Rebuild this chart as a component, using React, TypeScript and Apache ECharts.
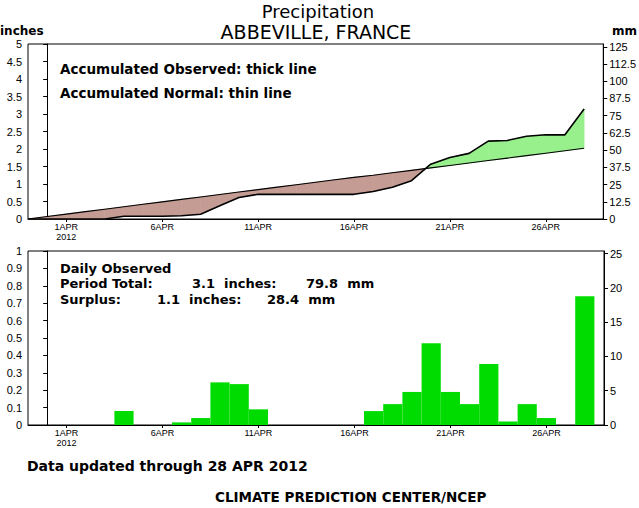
import React, { useEffect, useRef } from 'react';
import * as echarts from 'echarts';

// Day numbers of April 2012 (1 = 1 APR)
const DAYS = [1, 2, 3, 4, 5, 6, 7, 8, 9, 10, 11, 12, 13, 14, 15, 16, 17, 18, 19, 20, 21, 22, 23, 24, 25, 26, 27, 28];
// Daily observed precipitation (inches)
const DAILY_IN = [0, 0, 0, 0.08, 0, 0, 0.015, 0.04, 0.245, 0.235, 0.09, 0, 0, 0, 0, 0, 0.08, 0.12, 0.19, 0.47, 0.19, 0.12, 0.35, 0.02, 0.12, 0.04, 0, 0.74];
// Days for accumulated curves (start two days before 1 APR)
const CUM_DAYS = [-1, 0, 1, 2, 3, 4, 5, 6, 7, 8, 9, 10, 11, 12, 13, 14, 15, 16, 17, 18, 19, 20, 21, 22, 23, 24, 25, 26, 27, 28];
// Accumulated normal (inches)
const NORMAL_CUM = [0, 0.07, 0.14, 0.21, 0.28, 0.35, 0.42, 0.49, 0.56, 0.63, 0.70, 0.77, 0.84, 0.91, 0.98, 1.05, 1.12, 1.19, 1.25, 1.32, 1.39, 1.46, 1.53, 1.60, 1.67, 1.74, 1.81, 1.88, 1.95, 2.02];

const X_TICKS = [1, 6, 11, 16, 21, 26];
const X_TICK_LABELS = ['1APR\n2012', '6APR', '11APR', '16APR', '21APR', '26APR'];
const MM_TOP_TICKS = [0, 12.5, 25, 37.5, 50, 62.5, 75, 87.5, 100, 112.5, 125];
const MM_BOTTOM_TICKS = [0, 5, 10, 15, 20, 25];

const FONT = '"Liberation Sans", "DejaVu Sans", sans-serif';
const TFONT = '"DejaVu Sans", sans-serif';
const BROWN = '#c49c93';
const GREEN = '#98f08c';
const BAR = '#00dc00';

function buildOption() {
  // accumulated observed from daily values
  const obsCum: number[] = [0, 0];
  let acc = 0;
  DAILY_IN.forEach((v) => {
    acc += v;
    obsCum.push(Math.round(acc * 1000) / 1000);
  });

  const segs: number[][] = [];
  for (let i = 0; i < CUM_DAYS.length - 1; i++) {
    segs.push([CUM_DAYS[i], CUM_DAYS[i + 1], obsCum[i], obsCum[i + 1], NORMAL_CUM[i], NORMAL_CUM[i + 1]]);
  }

  const xLabel = (v: number) => {
    const i = X_TICKS.indexOf(Math.round(v));
    return i >= 0 ? X_TICK_LABELS[i] : '';
  };

  const xAxisBase = (gridIndex: number) => ({
    type: 'value',
    gridIndex,
    min: -1,
    max: 29,
    splitLine: { show: false },
    axisLine: { show: true, lineStyle: { color: '#000', width: 1 } },
    axisTick: { show: true, customValues: X_TICKS, length: 3, lineStyle: { color: '#000' } },
    axisLabel: {
      customValues: X_TICKS,
      formatter: xLabel,
      color: '#000',
      fontSize: 9,
      lineHeight: 10,
      margin: 3,
      fontFamily: FONT,
    },
  });

  const yLabel = { color: '#000', fontSize: 11, fontFamily: FONT, margin: 6 };
  const yLine = { show: true, lineStyle: { color: '#000', width: 1 } };
  const yTick = { show: true, length: 4, lineStyle: { color: '#000' } };

  const txt = (text: string, x: number, y: number, size: number, weight = 'bold', align = 'left') => ({
    type: 'text',
    x,
    y,
    style: {
      text,
      fill: '#000',
      font: `${weight} ${size}px ${TFONT}`,
      textAlign: align,
      textVerticalAlign: 'middle',
    },
  });

  return {
    animation: false,
    backgroundColor: '#fff',
    grid: [
      { left: 28, top: 44, width: 576, height: 175, show: true, borderColor: '#000', borderWidth: 1, backgroundColor: 'transparent' },
      { left: 28, top: 251, width: 576, height: 174, show: true, borderColor: '#000', borderWidth: 1, backgroundColor: 'transparent' },
    ],
    xAxis: [xAxisBase(0), xAxisBase(1)],
    yAxis: [
      {
        type: 'value', gridIndex: 0, position: 'left', min: 0, max: 5, interval: 0.5,
        splitLine: { show: false }, axisLine: yLine, axisTick: yTick, axisLabel: yLabel,
      },
      {
        type: 'value', gridIndex: 0, position: 'right', min: 0, max: 127,
        splitLine: { show: false }, axisLine: yLine,
        axisTick: { ...yTick, customValues: MM_TOP_TICKS },
        axisLabel: { ...yLabel, customValues: MM_TOP_TICKS },
      },
      {
        type: 'value', gridIndex: 1, position: 'left', min: 0, max: 1, interval: 0.1,
        splitLine: { show: false }, axisLine: yLine, axisTick: yTick, axisLabel: yLabel,
      },
      {
        type: 'value', gridIndex: 1, position: 'right', min: 0, max: 25.4,
        splitLine: { show: false }, axisLine: yLine,
        axisTick: { ...yTick, customValues: MM_BOTTOM_TICKS },
        axisLabel: { ...yLabel, customValues: MM_BOTTOM_TICKS },
      },
    ],
    series: [
      {
        type: 'custom',
        name: 'fill',
        xAxisIndex: 0,
        yAxisIndex: 0,
        data: segs,
        encode: { x: [0, 1], y: [2, 3, 4, 5] },
        z: 2,
        renderItem: (_p: any, api: any) => {
          const x0 = api.value(0), x1 = api.value(1);
          const o0 = api.value(2), o1 = api.value(3);
          const n0 = api.value(4), n1 = api.value(5);
          const d0 = o0 - n0, d1 = o1 - n1;
          const poly = (pts: number[][], fill: string) => ({
            type: 'polygon',
            shape: { points: pts.map((p) => api.coord(p)) },
            style: { fill, stroke: fill, lineWidth: 0.6 },
          });
          if (d0 * d1 < 0) {
            const t = d0 / (d0 - d1);
            const xc = x0 + t * (x1 - x0);
            const yc = n0 + t * (n1 - n0);
            return {
              type: 'group',
              children: [
                poly([[x0, o0], [xc, yc], [x0, n0]], d0 > 0 ? GREEN : BROWN),
                poly([[xc, yc], [x1, o1], [x1, n1]], d1 > 0 ? GREEN : BROWN),
              ],
            };
          }
          if (d0 === 0 && d1 === 0) return null;
          return poly([[x0, o0], [x1, o1], [x1, n1], [x0, n0]], d0 + d1 > 0 ? GREEN : BROWN);
        },
      },
      {
        type: 'line',
        name: 'Accumulated Normal',
        xAxisIndex: 0,
        yAxisIndex: 0,
        data: CUM_DAYS.map((d, i) => [d, NORMAL_CUM[i]]),
        symbol: 'none',
        lineStyle: { color: '#000', width: 1.1 },
        z: 3,
      },
      {
        type: 'line',
        name: 'Accumulated Observed',
        xAxisIndex: 0,
        yAxisIndex: 0,
        data: CUM_DAYS.map((d, i) => [d, obsCum[i]]),
        symbol: 'none',
        lineStyle: { color: '#000', width: 1.6 },
        z: 3,
      },
      {
        type: 'custom',
        name: 'Daily Observed',
        xAxisIndex: 1,
        yAxisIndex: 2,
        data: DAYS.map((d, i) => [d, DAILY_IN[i]]),
        encode: { x: 0, y: 1 },
        renderItem: (_p: any, api: any) => {
          const d = api.value(0), v = api.value(1);
          if (!v) return null;
          const a = api.coord([d - 0.5, v]);
          const b = api.coord([d + 0.5, 0]);
          return {
            type: 'rect',
            shape: { x: a[0], y: a[1], width: b[0] - a[0], height: b[1] - a[1] },
            style: { fill: BAR },
          };
        },
      },
    ],
    graphic: [
      txt('Precipitation', 318, 11, 18, 'normal', 'center'),
      txt('ABBEVILLE, FRANCE', 316, 32, 19, 'normal', 'center'),
      txt('inches', 0, 31, 12, 'bold', 'left'),
      txt('mm', 612, 31, 12, 'bold', 'left'),
      txt('Accumulated Observed: thick line', 60, 69, 13.5),
      txt('Accumulated Normal: thin line', 60, 93, 13.5),
      txt('Daily Observed', 60, 268, 13),
      txt('Period Total:', 60, 283, 13),
      txt('3.1  inches:', 192, 283, 13),
      txt('79.8  mm', 306, 283, 13),
      txt('Surplus:', 60, 299, 13),
      txt('1.1  inches:', 157, 299, 13),
      txt('28.4  mm', 267, 299, 13),
      txt('Data updated through 28 APR 2012', 27, 466, 14),
      txt('CLIMATE PREDICTION CENTER/NCEP', 215, 497, 13.5),
    ],
  };
}

export default function App() {
  const ref = useRef<HTMLDivElement>(null);
  useEffect(() => {
    if (!ref.current) return;
    const chart = echarts.init(ref.current, null, { renderer: 'svg' });
    chart.setOption(buildOption() as any);
    return () => chart.dispose();
  }, []);
  return (
    <div
      ref={ref}
      style={{ position: 'absolute', left: 0, top: 0, width: 639, height: 508, background: '#fff' }}
    />
  );
}
